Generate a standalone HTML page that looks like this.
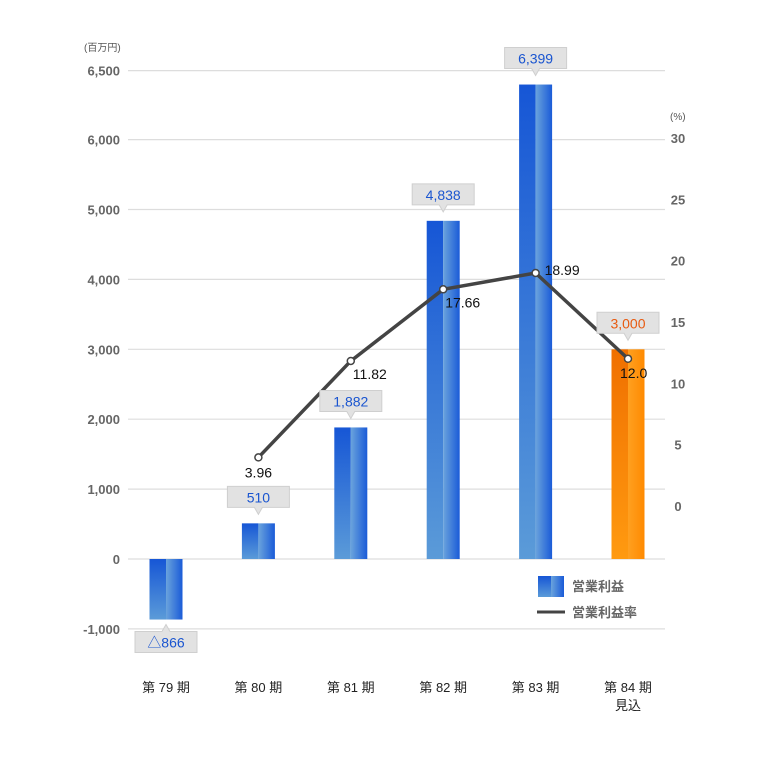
<!DOCTYPE html>
<html><head><meta charset="utf-8"><style>
body{margin:0;background:#fff;}
svg{display:block;font-family:"Liberation Sans","Noto Sans CJK JP",sans-serif;}
</style></head><body>
<svg width="768" height="758" viewBox="0 0 768 758">
<defs>
<linearGradient id="gl" x1="0" y1="0" x2="0" y2="1"><stop offset="0" stop-color="#1656d6"/><stop offset="1" stop-color="#5b9bd8"/></linearGradient>
<linearGradient id="gr" x1="0" y1="0" x2="1" y2="0"><stop offset="0" stop-color="#6aa3dc"/><stop offset="1" stop-color="#1a5bd8"/></linearGradient>
<linearGradient id="ol" x1="0" y1="0" x2="0" y2="1"><stop offset="0" stop-color="#f07000"/><stop offset="1" stop-color="#ff9a10"/></linearGradient>
<linearGradient id="or" x1="0" y1="0" x2="1" y2="0"><stop offset="0" stop-color="#ffa020"/><stop offset="1" stop-color="#ff8a00"/></linearGradient>
</defs>
<g id="grid"></g><g id="bars"></g><g id="line"></g><g id="labels"></g>
<text x="84" y="51" font-size="10" fill="#555">(百万円)</text>
<text x="670" y="120" font-size="10" fill="#555">(%)</text>
<g>
<rect x="538" y="576" width="13" height="21" fill="url(#gl)"/>
<rect x="551" y="576" width="13" height="21" fill="url(#gr)"/>
<text x="572" y="591" font-size="13" font-weight="bold" fill="#666">営業利益</text>
<line x1="537" y1="612" x2="565" y2="612" stroke="#444" stroke-width="3"/>
<text x="572" y="617" font-size="13" font-weight="bold" fill="#666">営業利益率</text>
</g>
</svg>
<script>
const categories=["第 79 期","第 80 期","第 81 期","第 82 期","第 83 期","第 84 期"];
const profit=[-866,510,1882,4838,6399,3000];
const profitLabels=["△866","510","1,882","4,838","6,399","3,000"];
const rate=[null,3.96,11.82,17.66,18.99,12.0];
const rateLabels=["","3.96","11.82","17.66","18.99","12.0"];
const leftTicks=[-1000,0,1000,2000,3000,4000,5000,6000,6500];
const rightTicks=[0,5,10,15,20,25,30];
const NS="http://www.w3.org/2000/svg";
const yL=v=>v<=6000?559-v*0.0699:(559-6000*0.0699)-(v-6000)*0.138;
const yR=v=>506-v*12.27;
const xC=i=>166+i*92.4;
function mk(tag,attrs,parent,txt){const e=document.createElementNS(NS,tag);for(const k in attrs)e.setAttribute(k,attrs[k]);if(txt!==undefined)e.textContent=txt;parent.appendChild(e);return e;}
const grid=document.getElementById('grid'),bars=document.getElementById('bars'),line=document.getElementById('line'),labels=document.getElementById('labels');
leftTicks.forEach(t=>{
 const l=mk('line',{x1:128,x2:665,y1:yL(t),y2:yL(t),stroke:'#ddd','stroke-width':1.2},grid);
 
 
 const tx=mk('text',{x:120,y:yL(t)+5,'text-anchor':'end','font-size':13,'font-weight':'bold',fill:'#666'},grid,t.toLocaleString('en-US'));
 
 
});
rightTicks.forEach(t=>{
 const tx=mk('text',{x:678,y:yR(t)+5,'text-anchor':'middle','font-size':13,'font-weight':'bold',fill:'#666'},grid,String(t));
 
 
});
categories.forEach((c,i)=>{
 const tx=mk('text',{x:xC(i),y:692,'text-anchor':'middle','font-size':13,fill:'#222'},labels,c);
 
 
});
const mi=mk('text',{x:xC(5),y:710,'text-anchor':'middle','font-size':13,fill:'#222'},labels,'見込');


profit.forEach((v,i)=>{
 const x=xC(i),w=33,y0=yL(0),y1=yL(v),top=Math.min(y0,y1),h=Math.abs(y1-y0);
 const orange=i===5;
 const b1=mk('rect',{x:x-w/2,y:top,width:w/2,height:h,fill:orange?'url(#ol)':'url(#gl)'},bars);
 
 
 const b2=mk('rect',{x:x,y:top,width:w/2,height:h,fill:orange?'url(#or)':'url(#gr)'},bars);
 
 
 const g=mk('g',{},labels);
 
 
 let by,path;
 if(v>=0){by=y1-37;path=`M${x-31},${by} h62 v21 h-27 l-4,7 l-4,-7 h-27 z`;}
 else{by=y1+12;path=`M${x-31},${by} h27 l4,-7 l4,7 h27 v21 h-62 z`;}
 mk('path',{d:path,fill:'#e2e2e2',stroke:'#cfcfcf'},g);
 mk('text',{x:x,y:by+16,'text-anchor':'middle','font-size':14,fill:orange?'#e85a10':'#1a55d0'},g,profitLabels[i]);
});
let pts=[];
rate.forEach((v,i)=>{if(v!==null)pts.push([xC(i),yR(v)]);});
const pl=mk('polyline',{points:pts.map(p=>p.join(',')).join(' '),fill:'none',stroke:'#444','stroke-width':3.5,'stroke-linejoin':'round'},line);


rate.forEach((v,i)=>{
 if(v===null)return;
 const c=mk('circle',{cx:xC(i),cy:yR(v),r:3.5,fill:'#fff',stroke:'#444','stroke-width':1.5},line);
 
 
 let lx=xC(i),ly=yR(v)+20,anc='middle';
 if(i===2||i===3){lx=xC(i)+2;anc='start';ly=yR(v)+18;}
 if(i===4){lx=xC(i)+9;anc='start';ly=yR(v)+2;}
 if(i===5){lx=xC(i)-8;anc='start';ly=yR(v)+19;}
 const t=mk('text',{x:lx,y:ly,'text-anchor':anc,'font-size':14,fill:'#111'},labels,rateLabels[i]);
 
 
});
</script>
</body></html>
